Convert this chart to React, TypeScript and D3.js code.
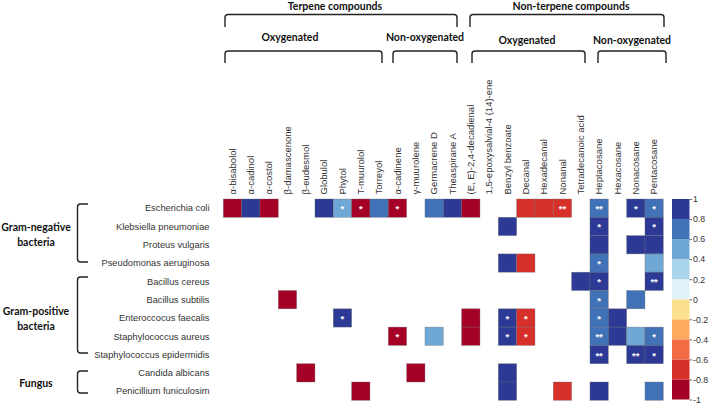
import { useRef, useEffect } from 'react';
import * as d3 from 'd3';

const WIDTH = 709;
const HEIGHT = 404;

const compounds = [
  'α-bisabolol', 'α-cadinol', 'α-costol', 'β-damascenone', 'β-eudesmol', 'Globulol',
  'Phytol', 'T-muurolol', 'Torreyol', 'α-cadinene', 'γ-muurolene', 'Germacrene D',
  'Theaspirane A', '(E, E)-2,4-decadienal', '1,5-epoxysalvial-4 (14)-ene', 'Benzyl benzoate',
  'Decanal', 'Hexadecanal', 'Nonanal', 'Tetradecanoic acid', 'Heptacosane', 'Hexacosane',
  'Nonacosane', 'Pentacosane',
];

const microbes = [
  'Escherichia coli', 'Klebsiella pneumoniae', 'Proteus vulgaris', 'Pseudomonas aeruginosa',
  'Bacillus cereus', 'Bacillus subtilis', 'Enteroccocus faecalis', 'Staphylococcus aureus',
  'Staphylococcus epidermidis', 'Candida albicans', 'Penicillium funiculosim',
];

const _ = null;
// correlation per microbe (row) x compound (column)
const corr: (number | null)[][] = [
  [-0.9, 0.9, -0.9, _, _, 0.9, 0.5, -0.9, 0.7, -0.9, _, 0.7, 0.9, -0.9, _, _, -0.7, -0.7, -0.7, _, 0.7, _, 0.9, 0.7],
  [_, _, _, _, _, _, _, _, _, _, _, _, _, _, _, 0.9, _, _, _, _, 0.9, _, _, 0.9],
  [_, _, _, _, _, _, _, _, _, _, _, _, _, _, _, _, _, _, _, _, 0.9, _, 0.9, 0.9],
  [_, _, _, _, _, _, _, _, _, _, _, _, _, _, _, 0.9, -0.7, _, _, _, 0.7, _, _, 0.5],
  [_, _, _, _, _, _, _, _, _, _, _, _, _, _, _, _, _, _, _, 0.9, 0.9, _, _, 0.9],
  [_, _, _, -0.9, _, _, _, _, _, _, _, _, _, _, _, _, _, _, _, _, 0.7, _, 0.7, _],
  [_, _, _, _, _, _, 0.9, _, _, _, _, _, _, -0.9, _, 0.9, -0.7, _, _, _, 0.7, 0.9, _, _],
  [_, _, _, _, _, _, _, _, _, -0.9, _, 0.5, _, -0.9, _, 0.9, -0.7, _, _, _, 0.7, 0.9, 0.5, 0.7],
  [_, _, _, _, _, _, _, _, _, _, _, _, _, _, _, _, _, _, _, _, 0.9, _, 0.9, 0.9],
  [_, _, _, _, -0.9, _, _, _, _, _, -0.9, _, _, _, _, 0.9, _, _, _, _, _, _, _, _],
  [_, _, _, _, _, _, _, -0.9, _, _, _, _, _, _, _, 0.9, _, _, -0.7, _, 0.9, _, _, 0.7],
];

// significance marks, same layout ('' = none)
const e = '';
const signif: string[][] = [
  [e, e, e, e, e, e, '*', '*', e, '*', e, e, e, e, e, e, e, e, '**', e, '**', e, '*', '*'],
  [e, e, e, e, e, e, e, e, e, e, e, e, e, e, e, e, e, e, e, e, '*', e, e, '*'],
  [e, e, e, e, e, e, e, e, e, e, e, e, e, e, e, e, e, e, e, e, e, e, e, e],
  [e, e, e, e, e, e, e, e, e, e, e, e, e, e, e, e, e, e, e, e, '*', e, e, e],
  [e, e, e, e, e, e, e, e, e, e, e, e, e, e, e, e, e, e, e, e, '*', e, e, '**'],
  [e, e, e, e, e, e, e, e, e, e, e, e, e, e, e, e, e, e, e, e, '*', e, e, e],
  [e, e, e, e, e, e, '*', e, e, e, e, e, e, e, e, '*', '*', e, e, e, '*', e, e, e],
  [e, e, e, e, e, e, e, e, e, '*', e, e, e, e, e, '*', '*', e, e, e, '**', e, e, '*'],
  [e, e, e, e, e, e, e, e, e, e, e, e, e, e, e, e, e, e, e, e, '**', e, '**', '*'],
  [e, e, e, e, e, e, e, e, e, e, e, e, e, e, e, e, e, e, e, e, e, e, e, e],
  [e, e, e, e, e, e, e, e, e, e, e, e, e, e, e, e, e, e, e, e, e, e, e, e],
];

const palette = [
  '#a50026', '#d7302a', '#f26b43', '#fcab5f', '#fde08e',
  '#e0f1f7', '#a9d4e9', '#70a8d5', '#4172b7', '#2c3a96',
];
const legendTicks = [1, 0.8, 0.6, 0.4, 0.2, 0, -0.2, -0.4, -0.6, -0.8, -1];

const topGroups = [
  { label: 'Terpene compounds', x1: 225, x2: 457, tx: 335 },
  { label: 'Non-terpene compounds', x1: 470, x2: 664, tx: 571 },
];
const subGroups = [
  { label: 'Oxygenated', x1: 225, x2: 382, tx: 290, ty: 41 },
  { label: 'Non-oxygenated', x1: 393, x2: 457, tx: 425, ty: 41 },
  { label: 'Oxygenated', x1: 472, x2: 585, tx: 527, ty: 44 },
  { label: 'Non-oxygenated', x1: 598, x2: 666, tx: 632, ty: 44 },
];
const rowGroups = [
  { lines: ['Gram-negative', 'bacteria'], y1: 204, y2: 262, ty: 231 },
  { lines: ['Gram-positive', 'bacteria'], y1: 277, y2: 353, ty: 315 },
  { lines: ['Fungus'], y1: 371, y2: 393, ty: 387 },
];

function topBracket(x1: number, x2: number, y1: number, y2: number, r = 3) {
  return `M${x1},${y2} L${x1},${y1 + r} Q${x1},${y1} ${x1 + r},${y1} L${x2 - r},${y1} Q${x2},${y1} ${x2},${y1 + r} L${x2},${y2}`;
}
function leftBracket(x: number, xe: number, y1: number, y2: number, r = 3) {
  return `M${xe},${y1} L${x + r},${y1} Q${x},${y1} ${x},${y1 + r} L${x},${y2 - r} Q${x},${y2} ${x + r},${y2} L${xe},${y2}`;
}

export default function App() {
  const svgRef = useRef<SVGSVGElement>(null);

  useEffect(() => {
    if (!svgRef.current) return;
    const svg = d3.select(svgRef.current);
    svg.selectAll('*').remove();

    const x = d3.scaleBand<string>().domain(compounds).range([223.3, 663.3]);
    const y = d3.scaleBand<string>().domain(microbes).range([199, 400.3]);
    const color = d3.scaleQuantize<string>().domain([-1, 1]).range(palette);
    const font = 'Liberation Sans, Arial, sans-serif';
    const boldFont = 'Lato, Open Sans, sans-serif';

    // Column labels
    svg.append('g')
      .selectAll('text')
      .data(compounds)
      .join('text')
      .attr('transform', (d) => `translate(${x(d)! + x.bandwidth() / 2 + 3.3},194.5) rotate(-90)`)
      .attr('text-anchor', 'start')
      .attr('font-family', font).attr('font-size', '9.5px').attr('fill', '#333')
      .text((d) => d);

    // Row labels
    svg.append('g')
      .selectAll('text')
      .data(microbes)
      .join('text')
      .attr('x', 209.5)
      .attr('y', (d) => y(d)! + y.bandwidth() / 2 + 3.3)
      .attr('text-anchor', 'end')
      .attr('font-family', font).attr('font-size', '9.3px').attr('fill', '#333')
      .text((d) => d);

    // Cells
    const cells = corr.flatMap((row, ri) =>
      row.map((v, ci) => ({ v, s: signif[ri][ci], r: microbes[ri], c: compounds[ci] }))
    ).filter((d) => d.v !== null);

    svg.append('g')
      .selectAll('rect')
      .data(cells)
      .join('rect')
      .attr('x', (d) => x(d.c)!)
      .attr('y', (d) => y(d.r)!)
      .attr('width', x.bandwidth())
      .attr('height', y.bandwidth())
      .attr('fill', (d) => color(d.v as number))
      .attr('stroke', '#6b6b6b').attr('stroke-opacity', 0.55).attr('stroke-width', 0.6);

    svg.append('g')
      .selectAll('text')
      .data(cells.filter((d) => d.s))
      .join('text')
      .attr('x', (d) => x(d.c)! + x.bandwidth() / 2)
      .attr('y', (d) => y(d.r)! + y.bandwidth() / 2 + 4)
      .attr('text-anchor', 'middle')
      .attr('font-family', font).attr('font-size', '9.5px').attr('font-weight', 'bold')
      .attr('fill', '#fff')
      .text((d) => d.s);

    // Legend colour bar
    const ly = d3.scaleLinear().domain([-1, 1]).range([399.5, 199]);
    const legend = svg.append('g');
    legend.selectAll('rect')
      .data(palette)
      .join('rect')
      .attr('x', 672).attr('width', 17.5)
      .attr('y', (_d, i) => ly(-1 + (i + 1) * 0.2))
      .attr('height', (_d, i) => ly(-1 + i * 0.2) - ly(-1 + (i + 1) * 0.2))
      .attr('fill', (d) => d);

    const axis = legend.append('g')
      .attr('transform', 'translate(689.5,0)')
      .call(d3.axisRight(ly).tickValues(legendTicks).tickSize(2.5)
        .tickFormat((d) => String(d)));
    axis.select('.domain').remove();
    axis.selectAll('line').attr('stroke', '#666');
    axis.selectAll('text')
      .attr('font-family', font).attr('font-size', '8.8px').attr('fill', '#333').attr('x', 3.5);

    // Header brackets
    const head = svg.append('g');
    topGroups.forEach((g) => {
      head.append('path').attr('d', topBracket(g.x1, g.x2, 14.5, 27))
        .attr('fill', 'none').attr('stroke', '#222').attr('stroke-width', 1.4);
      head.append('text').attr('x', g.tx).attr('y', 9.5).attr('text-anchor', 'middle')
        .attr('font-family', boldFont).attr('font-weight', 'bold').attr('font-size', '10.5px')
        .attr('fill', '#111').text(g.label);
    });
    subGroups.forEach((g) => {
      head.append('path').attr('d', topBracket(g.x1, g.x2, 51, 63))
        .attr('fill', 'none').attr('stroke', '#222').attr('stroke-width', 1.4);
      head.append('text').attr('x', g.tx).attr('y', g.ty).attr('text-anchor', 'middle')
        .attr('font-family', boldFont).attr('font-weight', 'bold').attr('font-size', '10.5px')
        .attr('fill', '#111').text(g.label);
    });

    // Row group brackets
    rowGroups.forEach((g) => {
      head.append('path').attr('d', leftBracket(77.5, 88, g.y1, g.y2))
        .attr('fill', 'none').attr('stroke', '#222').attr('stroke-width', 1.4);
      g.lines.forEach((ln, i) => {
        head.append('text').attr('x', 36).attr('y', g.ty + i * 14.5).attr('text-anchor', 'middle')
          .attr('font-family', boldFont).attr('font-weight', 'bold').attr('font-size', '10.5px')
          .attr('fill', '#111').text(ln);
      });
    });
  }, []);

  return (
    <svg
      ref={svgRef}
      width={WIDTH}
      height={HEIGHT}
      style={{ position: 'absolute', left: 0, top: 0, background: '#fff' }}
    />
  );
}
